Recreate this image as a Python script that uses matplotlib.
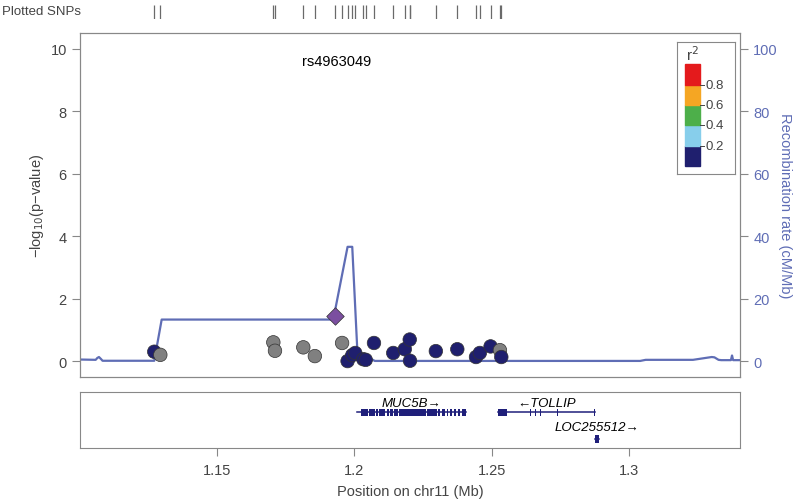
import numpy as np
import matplotlib
matplotlib.use('Agg')
import matplotlib.pyplot as plt
from matplotlib.patches import Rectangle

plt.rcParams['font.family'] = ['Liberation Sans', 'DejaVu Sans']

# SNPs (position in Mb, -log10 p, r2 with index SNP; nan = no LD info)
snp_pos = [1.1273, 1.1295, 1.1706, 1.1712, 1.1815, 1.1857, 1.1956, 1.1976,
           1.1993, 1.2004, 1.2033, 1.2042, 1.2072, 1.2142, 1.2184, 1.2202,
           1.2203, 1.2297, 1.2375, 1.2443, 1.2457, 1.2496, 1.2530, 1.2535]
snp_logp = [0.30, 0.20, 0.60, 0.33, 0.44, 0.16, 0.58, 0.00,
            0.19, 0.26, 0.06, 0.04, 0.58, 0.26, 0.38, 0.69,
            0.01, 0.32, 0.38, 0.13, 0.26, 0.47, 0.35, 0.13]
snp_r2 = [0.1, np.nan, np.nan, np.nan, np.nan, np.nan, np.nan, 0.1,
          0.1, 0.1, 0.1, 0.1, 0.1, 0.1, 0.1, 0.1,
          0.1, 0.1, 0.1, 0.1, 0.1, 0.1, np.nan, 0.1]

index_snp = 'rs4963049'
index_pos = 1.1930
index_logp = 1.45

# recombination rate (cM/Mb)
recomb_pos = [1.1003, 1.1060, 1.1066, 1.1072, 1.1080, 1.1085, 1.1273, 1.1300,
              1.1924, 1.1976, 1.1993, 1.2013, 1.2068, 1.2075, 1.3040, 1.3060,
              1.3232, 1.3300, 1.3310, 1.3325, 1.3335, 1.3370, 1.3374, 1.3378, 1.3403]
recomb_rate = [0.5, 0.4, 1.0, 1.3, 0.6, 0.1, 0.1, 13.3,
               13.3, 36.6, 36.6, 0.6, 0.4, 0.05, 0.05, 0.4,
               0.4, 1.3, 1.2, 0.4, 0.3, 0.3, 1.8, 0.3, 0.3]

# genes: name, strand, tx start, tx end, exons, row
gene_names = ['MUC5B', 'TOLLIP', 'LOC255512']
gene_strand = ['+', '-', '+']
gene_start = [1.2009, 1.2524, 1.2876]
gene_end = [1.2406, 1.2875, 1.2890]
gene_exons = [
    [(1.2009, 1.2011), (1.2026, 1.2034), (1.2037, 1.2052), (1.2055, 1.2075),
     (1.2078, 1.2086), (1.2089, 1.2112), (1.2120, 1.2126), (1.2132, 1.2141),
     (1.2144, 1.2160), (1.2163, 1.2260), (1.2265, 1.2300), (1.2306, 1.2311),
     (1.2318, 1.2330), (1.2336, 1.2342), (1.2348, 1.2355), (1.2362, 1.2370),
     (1.2376, 1.2385), (1.2392, 1.2406)],
    [(1.2524, 1.2554), (1.2640, 1.2643), (1.2658, 1.2661), (1.2676, 1.2679),
     (1.2738, 1.2741), (1.2872, 1.2875)],
    [(1.2876, 1.2890)],
]
gene_row = [0, 0, 1]

x_ticks = [1.15, 1.2, 1.25, 1.3]
r2_bins = [0.2, 0.4, 0.6, 0.8]
r2_colors = ['#1F1F6E', '#87CEEB', '#4DAF4A', '#F5A623', '#E41A1C']

xlim = (1.1003, 1.3403)
recomb_col = '#5F6DB5'
axis_grey = '#888888'
text_grey = '#444444'


def r2_color(r):
    if np.isnan(r):
        return '#808080'
    return r2_colors[np.searchsorted(r2_bins, r)]


fig = plt.figure(figsize=(8, 5.02), dpi=100)
ax = fig.add_axes([0.1, 0.247, 0.825, 0.6853])
ax2 = ax.twinx()
ax_rug = fig.add_axes([0.1, 0.9602, 0.825, 0.0279])
ax_gene = fig.add_axes([0.1, 0.1056, 0.825, 0.1115])

# recombination line on the right axis, kept behind the points
ax2.plot(recomb_pos, recomb_rate, color=recomb_col, lw=1.6)
ax2.set_ylim(-5.1, 105.1)
ax2.set_yticks([0, 20, 40, 60, 80, 100])
ax2.tick_params(axis='y', colors=recomb_col, labelsize=10.5, length=6)
ax2.set_ylabel('Recombination rate (cM/Mb)', color=recomb_col, fontsize=10.5,
               rotation=270, labelpad=10)
ax.set_zorder(ax2.get_zorder() + 1)
ax.patch.set_visible(False)

# snps
cols = [r2_color(r) for r in snp_r2]
ax.scatter(snp_pos, snp_logp, s=95, c=cols, edgecolors='#333333', linewidths=0.5, zorder=3)
ax.scatter([index_pos], [index_logp], s=80, marker='D', c='#7B4FA0',
           edgecolors='#333333', linewidths=0.5, zorder=4)
ax.text(1.1935, 9.6, index_snp, ha='center', va='center', fontsize=10.5)

ax.set_xlim(xlim)
ax.set_ylim(-0.51, 10.51)
ax.set_yticks([0, 2, 4, 6, 8, 10])
ax.set_xticks([])
ax.tick_params(axis='y', colors=text_grey, labelsize=10.5, length=6)
ax.set_ylabel('−log$_{10}$(p−value)', color=text_grey, fontsize=10.5, labelpad=3)
for a in (ax, ax2):
    for s in a.spines.values():
        s.set_color(axis_grey)
    a.tick_params(axis='y', which='both', color=axis_grey)

# r2 legend box
leg_ax = fig.add_axes([677 / 800, 1 - 175 / 502, 58 / 800, 132 / 502])
leg_ax.set_xlim(0, 1)
leg_ax.set_ylim(0, 1)
leg_ax.set_xticks([])
leg_ax.set_yticks([])
for s in leg_ax.spines.values():
    s.set_color(axis_grey)
bar_lo, bar_hi = 0.06, 0.83
edges = [0] + r2_bins + [1]
for i, c in enumerate(r2_colors):
    y0 = bar_lo + (bar_hi - bar_lo) * edges[i]
    y1 = bar_lo + (bar_hi - bar_lo) * edges[i + 1]
    leg_ax.add_patch(Rectangle((0.14, y0), 0.25, y1 - y0, color=c))
for b in r2_bins:
    yb = bar_lo + (bar_hi - bar_lo) * b
    leg_ax.plot([0.39, 0.47], [yb, yb], color=text_grey, lw=0.7)
    leg_ax.text(0.5, yb, f'{b:.1f}', va='center', ha='left', fontsize=9.5, color=text_grey)
leg_ax.text(0.27, 0.91, 'r$^2$', ha='center', va='center', fontsize=11, color=text_grey)

# rug of plotted snps
all_pos = sorted(snp_pos + [index_pos])
ax_rug.vlines(all_pos, 0, 1, color='#6a6a6a', lw=0.9)
ax_rug.set_xlim(xlim)
ax_rug.set_ylim(0, 1)
ax_rug.axis('off')
fig.text(0.003, 0.977, 'Plotted SNPs', ha='left', va='center', fontsize=9.5, color=text_grey)

# gene track
row_y = [0.64, 0.16]
label_y = [0.81, 0.38]
gene_col = '#1F1F7A'
for name, strand, g0, g1, exons, row in zip(gene_names, gene_strand, gene_start,
                                            gene_end, gene_exons, gene_row):
    y = row_y[row]
    ax_gene.plot([g0, g1], [y, y], color=gene_col, lw=1.1)
    for e0, e1 in exons:
        ax_gene.add_patch(Rectangle((e0, y - 0.065), max(e1 - e0, 0.0003), 0.13,
                                    color=gene_col, lw=0))
    lab = name + '→' if strand == '+' else '←' + name
    ax_gene.text((g0 + g1) / 2, label_y[row], lab, ha='center', va='center',
                 fontsize=9.5, style='italic')

ax_gene.set_xlim(xlim)
ax_gene.set_ylim(0, 1)
ax_gene.set_yticks([])
ax_gene.set_xticks(x_ticks)
ax_gene.set_xticklabels(['1.15', '1.2', '1.25', '1.3'])
ax_gene.tick_params(axis='x', colors=text_grey, labelsize=10.5, length=6, pad=5)
ax_gene.tick_params(axis='x', color=axis_grey)
for s in ax_gene.spines.values():
    s.set_color(axis_grey)
ax_gene.set_xlabel('Position on chr11 (Mb)', color=text_grey, fontsize=10.5, labelpad=5)

fig.savefig('out.png', dpi=100)
